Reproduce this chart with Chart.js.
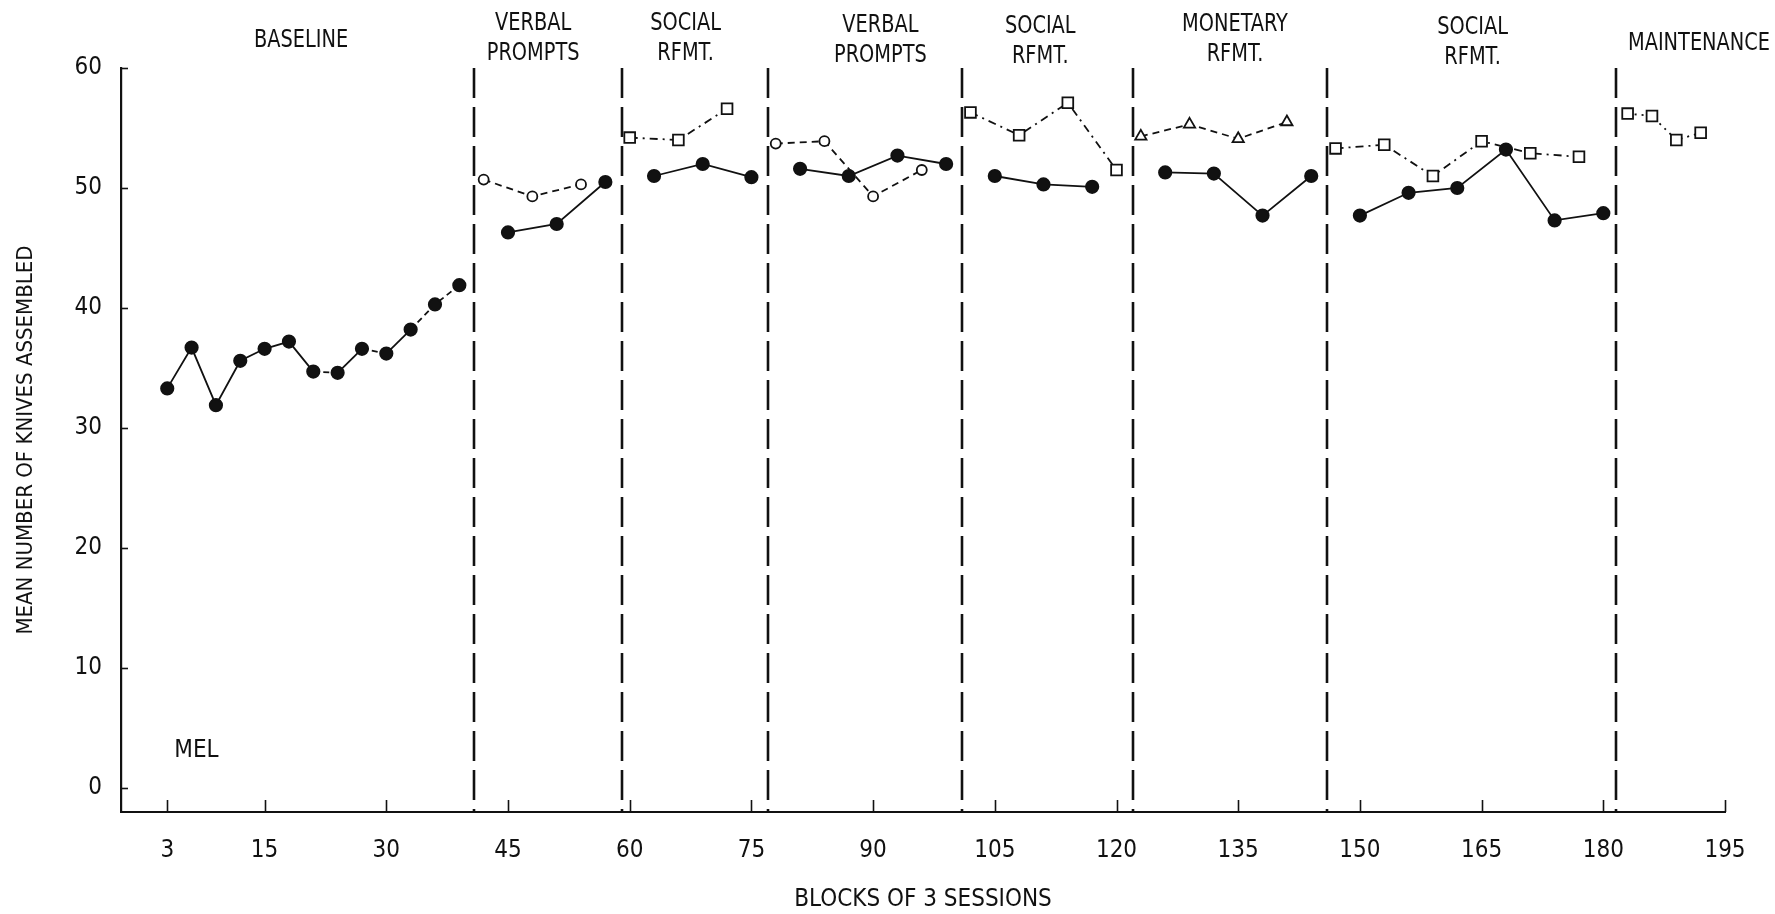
<!DOCTYPE html>
<html>
<head>
<meta charset="utf-8">
<title>Mean number of knives assembled – Mel</title>
<script src="https://cdn.jsdelivr.net/npm/chart.js@4.4.1/dist/chart.umd.min.js"></script>
<style>
  html, body { margin: 0; padding: 0; background: #fff; }
  #wrap { width: 1775px; height: 914px; position: relative; }
</style>
</head>
<body>
<div id="wrap"><canvas id="chart" width="1775" height="914"></canvas></div>
<script>
// Blocks of 3 sessions (x) and mean number of knives assembled (y), phase by phase
const baselineX = [3, 6, 9, 12, 15, 18, 21, 24, 27, 30, 33, 36, 39];
const baselineY = [33.3, 36.7, 31.9, 35.6, 36.6, 37.2, 34.7, 34.6, 36.6, 36.2, 38.2, 40.3, 41.9];

const verbal1OpenX = [42, 48, 54];
const verbal1OpenY = [50.7, 49.3, 50.3];
const verbal1FilledX = [45, 51, 57];
const verbal1FilledY = [46.3, 47.0, 50.5];

const social1SquareX = [60, 66, 72];
const social1SquareY = [54.2, 54.0, 56.6];
const social1FilledX = [63, 69, 75];
const social1FilledY = [51.0, 52.0, 50.9];

const verbal2OpenX = [78, 84, 90, 96];
const verbal2OpenY = [53.7, 53.9, 49.3, 51.5];
const verbal2FilledX = [81, 87, 93, 99];
const verbal2FilledY = [51.6, 51.0, 52.7, 52.0];

const social2SquareX = [102, 108, 114, 120];
const social2SquareY = [56.3, 54.4, 57.1, 51.5];
const social2FilledX = [105, 111, 117];
const social2FilledY = [51.0, 50.3, 50.1];

const monetaryTriangleX = [123, 129, 135, 141];
const monetaryTriangleY = [54.3, 55.3, 54.1, 55.5];
const monetaryFilledX = [126, 132, 138, 144];
const monetaryFilledY = [51.3, 51.2, 47.7, 51.0];

const social3SquareX = [147, 153, 159, 165, 171, 177];
const social3SquareY = [53.3, 53.6, 51.0, 53.9, 52.9, 52.6];
const social3FilledX = [150, 156, 162, 168, 174, 180];
const social3FilledY = [47.7, 49.6, 50.0, 53.2, 47.3, 47.9];

const maintenanceX = [183, 186, 189, 192];
const maintenanceY = [56.2, 56.0, 54.0, 54.6];

// Condition changes (block where each dashed phase line falls) and phase titles
const phaseChanges = [40.8, 59, 77, 101, 122, 146, 181.6];
const phaseTitles = [
  ['BASELINE'], ['VERBAL', 'PROMPTS'], ['SOCIAL', 'RFMT.'], ['VERBAL', 'PROMPTS'],
  ['SOCIAL', 'RFMT.'], ['MONETARY', 'RFMT.'], ['SOCIAL', 'RFMT.'], ['MAINTENANCE']
];

const xTickValues = [3, 15, 30, 45, 60, 75, 90, 105, 120, 135, 150, 165, 180, 195];
const yTickValues = [0, 10, 20, 30, 40, 50, 60];

// ---- presentation ---------------------------------------------------------
const FONT = '"Liberation Sans Narrow", "Arial Narrow", "DejaVu Sans Condensed", sans-serif';
const INK = '#111';

// where each phase title sits: centre (in blocks) and the middle of its first line (px)
const titleCentres = [19.5, 48.1, 66.9, 90.9, 110.6, 134.6, 163.9, 192.2];
const titleTops = [40, 23, 23, 25, 26, 24, 27, 43];
const TITLE_SQUEEZE = 0.86;   // narrow, typewriter-like lettering
const TITLE_MAX_RIGHT = 1770; // keep the last title inside the canvas

const pairs = (xs, ys) => xs.map((x, i) => ({ x, y: ys[i] }));

const styles = {
  filled:   { pointStyle: 'circle',   pointRadius: 6.2, pointBackgroundColor: INK, borderDash: [] },
  open:     { pointStyle: 'circle',   pointRadius: 5,   pointBackgroundColor: '#fff', borderDash: [7, 5] },
  square:   { pointStyle: 'rect',     pointRadius: 7.6, pointBackgroundColor: '#fff', borderDash: [8, 5, 2, 5] },
  triangle: { pointStyle: 'triangle', pointRadius: 6.5, pointBackgroundColor: '#fff', borderDash: [7, 5] }
};

function series(label, xs, ys, kind, extra) {
  return Object.assign({
    label,
    data: pairs(xs, ys),
    borderColor: INK,
    borderWidth: 1.8,
    pointBorderColor: INK,
    pointBorderWidth: 1.8,
    pointHoverRadius: 6,
    fill: false,
    tension: 0
  }, styles[kind], extra || {});
}

// baseline segments drawn broken rather than solid
const brokenBaselineSegments = [6, 8, 10, 11];

const datasets = [
  series('Baseline', baselineX, baselineY, 'filled', {
    segment: { borderDash: c => brokenBaselineSegments.includes(c.p0DataIndex) ? [6, 4] : undefined }
  }),
  series('Verbal prompts (open)', verbal1OpenX, verbal1OpenY, 'open'),
  series('Verbal prompts', verbal1FilledX, verbal1FilledY, 'filled'),
  series('Social rfmt. (squares)', social1SquareX, social1SquareY, 'square'),
  series('Social rfmt.', social1FilledX, social1FilledY, 'filled'),
  series('Verbal prompts 2 (open)', verbal2OpenX, verbal2OpenY, 'open'),
  series('Verbal prompts 2', verbal2FilledX, verbal2FilledY, 'filled'),
  series('Social rfmt. 2 (squares)', social2SquareX, social2SquareY, 'square'),
  series('Social rfmt. 2', social2FilledX, social2FilledY, 'filled'),
  series('Monetary rfmt. (triangles)', monetaryTriangleX, monetaryTriangleY, 'triangle'),
  series('Monetary rfmt.', monetaryFilledX, monetaryFilledY, 'filled'),
  series('Social rfmt. 3 (squares)', social3SquareX, social3SquareY, 'square'),
  series('Social rfmt. 3', social3FilledX, social3FilledY, 'filled'),
  series('Maintenance', maintenanceX, maintenanceY, 'square', { borderDash: [2, 5] })
];

// dashed condition lines, inward tick marks, phase titles and the subject name
const phaseDecor = {
  id: 'phaseDecor',
  beforeDatasetsDraw(chart) {
    const { ctx, chartArea, scales: { x, y } } = chart;
    ctx.save();
    ctx.strokeStyle = INK;
    // condition change lines
    ctx.lineWidth = 2.6;
    ctx.setLineDash([30, 9]);
    phaseChanges.forEach(v => {
      const px = Math.round(x.getPixelForValue(v));
      ctx.beginPath();
      ctx.moveTo(px, chartArea.top);
      ctx.lineTo(px, chartArea.bottom);
      ctx.stroke();
    });
    ctx.setLineDash([]);
    // tick marks pointing into the plot
    ctx.lineWidth = 1.6;
    xTickValues.forEach(v => {
      const px = Math.round(x.getPixelForValue(v)) + 0.5;
      ctx.beginPath();
      ctx.moveTo(px, chartArea.bottom);
      ctx.lineTo(px, chartArea.bottom - 12);
      ctx.stroke();
    });
    yTickValues.forEach(v => {
      const py = Math.round(y.getPixelForValue(v)) + 0.5;
      ctx.beginPath();
      ctx.moveTo(chartArea.left, py);
      ctx.lineTo(chartArea.left + 7, py);
      ctx.stroke();
    });
    ctx.restore();
  },
  afterDraw(chart) {
    const { ctx, scales: { x, y } } = chart;
    ctx.save();
    ctx.fillStyle = INK;
    ctx.textAlign = 'center';
    ctx.textBaseline = 'middle';
    ctx.font = '25px ' + FONT;
    phaseTitles.forEach((lines, i) => {
      let cx = x.getPixelForValue(titleCentres[i]);
      lines.forEach((t, j) => {
        const w = ctx.measureText(t).width * TITLE_SQUEEZE;
        const c = Math.min(cx, TITLE_MAX_RIGHT - w / 2);
        ctx.fillText(t, c, titleTops[i] + j * 30, w);
      });
    });
    ctx.font = '24px ' + FONT;
    ctx.fillText('MEL', x.getPixelForValue(6.6), y.getPixelForValue(3.1));
    ctx.restore();
  }
};

new Chart(document.getElementById('chart'), {
  type: 'line',
  data: { datasets },
  plugins: [phaseDecor],
  options: {
    responsive: false,
    animation: false,
    events: [],
    layout: { padding: { top: 68, right: 50, bottom: 0, left: 0 } },
    plugins: { legend: { display: false }, tooltip: { enabled: false } },
    scales: {
      x: {
        type: 'linear',
        min: -2.7,
        max: 195,
        afterFit: s => { s.height = 102; },
        afterBuildTicks: s => { s.ticks = xTickValues.map(value => ({ value })); },
        grid: { display: false, drawTicks: false },
        border: { display: true, color: INK, width: 2 },
        ticks: {
          autoSkip: false,
          maxRotation: 0,
          padding: 24,
          color: INK,
          font: { family: FONT, size: 24 },
          callback: v => String(v)
        },
        title: {
          display: true,
          text: 'BLOCKS OF 3 SESSIONS',
          color: INK,
          font: { family: FONT, size: 24 },
          padding: { top: 0, bottom: 0 }
        }
      },
      y: {
        type: 'linear',
        min: -2,
        max: 60,
        afterFit: s => { s.width = 121; },
        afterBuildTicks: s => { s.ticks = yTickValues.map(value => ({ value })); },
        grid: { display: false, drawTicks: false },
        border: { display: true, color: INK, width: 2.2 },
        ticks: {
          padding: 19,
          color: INK,
          font: { family: FONT, size: 24 },
          callback: v => String(v)
        },
        title: {
          display: true,
          text: 'MEAN NUMBER OF KNIVES ASSEMBLED',
          color: INK,
          font: { family: FONT, size: 22 },
          padding: { top: 13, bottom: 0 }
        }
      }
    }
  }
});
</script>
</body>
</html>
